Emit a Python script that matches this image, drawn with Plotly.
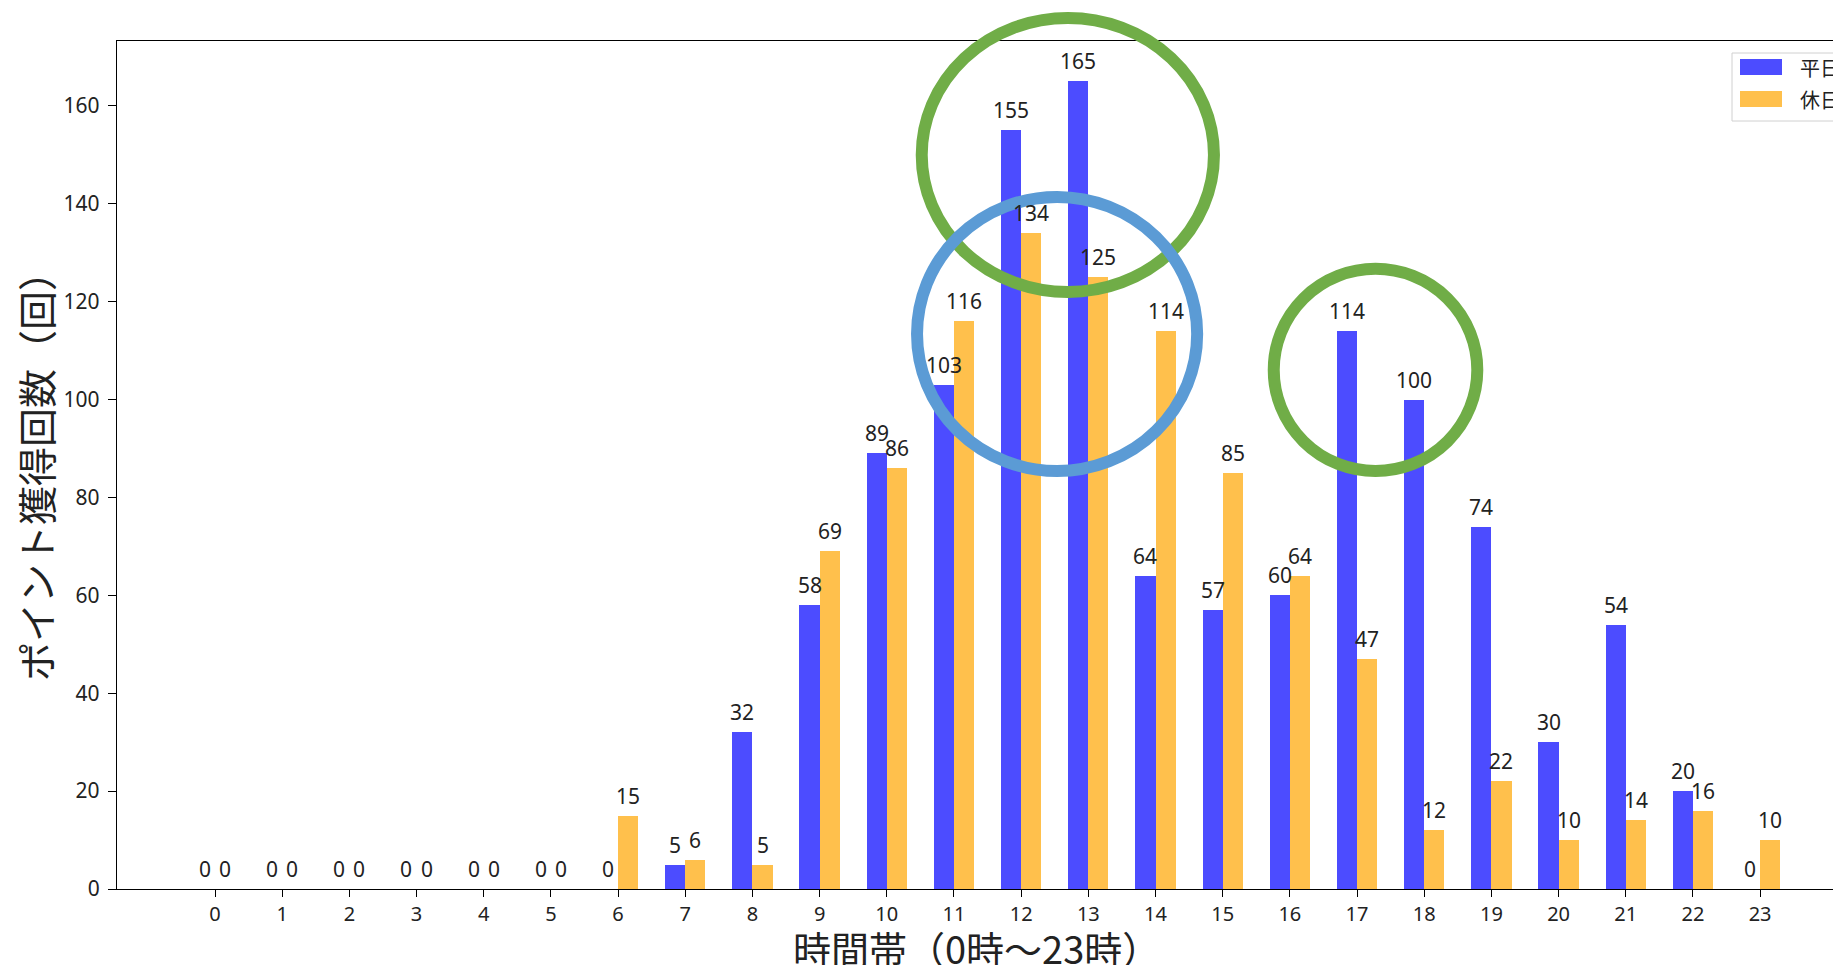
import plotly.graph_objects as go

# ---------------- data ----------------
hours = list(range(24))
weekday = [0, 0, 0, 0, 0, 0, 0, 5, 32, 58, 89, 103, 155, 165, 64, 57, 60, 114, 100, 74, 30, 54, 20, 0]
holiday = [0, 0, 0, 0, 0, 0, 15, 6, 5, 69, 86, 116, 134, 125, 114, 85, 64, 47, 12, 22, 10, 14, 16, 10]
series_names = ["平日", "休日"]
series_colors = ["rgba(0,0,255,0.7)", "rgba(255,165,0,0.7)"]
x_title = "時間帯（0時〜23時）"
y_title = "ポイント獲得回数（回）"
y_tick_vals = [0, 20, 40, 60, 80, 100, 120, 140, 160]

# highlight ellipses in data units: (x0, x1, y0, y1, color)
highlights = [
    (10.52, 14.87, 121.97, 177.95, "#70AD47"),
    (10.45, 14.62, 85.4, 141.4, "#5B9BD5"),
    (15.76, 18.79, 85.4, 126.7, "#70AD47"),
]

# ---------------- layout constants ----------------
OFF = 8                      # page body margin in the browser
SCR_W, SCR_H = 1841, 965
W, H = SCR_W - OFF, SCR_H - OFF
# plot area in screen pixels
P_LEFT, P_TOP, P_BOTTOM = 117, 41, 889
ML, MR, MT, MB = P_LEFT - OFF, 0, P_TOP - OFF, H - (P_BOTTOM - OFF)
X_RANGE = [-1.459, 24.204]
Y_RANGE = [0, 173.25]
BAR_W = 0.3
FONT_NUM = "Noto Sans, Noto Sans CJK JP, sans-serif"
FONT_JP = "Noto Sans CJK JP, Noto Sans, sans-serif"
TXT = "#222222"

plot_w = W - ML - MR
plot_h = H - MT - MB


def dx_to_paper(v):
    return (v - X_RANGE[0]) / (X_RANGE[1] - X_RANGE[0])


def dy_to_paper(v):
    return (v - Y_RANGE[0]) / (Y_RANGE[1] - Y_RANGE[0])


def px_to_paper_x(px):
    # px in screen coordinates
    return (px - OFF - ML) / plot_w


def px_to_paper_y(py):
    return (H - MB - (py - OFF)) / plot_h


fig = go.Figure()
all_series = [weekday, holiday]
offsets = [-BAR_W, 0.0]
for name, vals, col, off in zip(series_names, all_series, series_colors, offsets):
    fig.add_trace(go.Bar(
        x=hours, y=vals, name=name, width=BAR_W, offset=off,
        marker=dict(color=col, line=dict(width=0)),
        showlegend=False, hoverinfo="x+y+name",
    ))

annotations = []
for vals, off in zip(all_series, offsets):
    for h, v in zip(hours, vals):
        annotations.append(dict(
            x=h + off + BAR_W / 2, y=v, xref="x", yref="y",
            text=str(v), showarrow=False, yanchor="bottom", xanchor="center",
            yshift=4, font=dict(family=FONT_NUM, size=21, color=TXT),
        ))

# axis titles
annotations.append(dict(
    x=px_to_paper_x(976), y=px_to_paper_y(947), xref="paper", yref="paper",
    text=x_title, showarrow=False, xanchor="center", yanchor="middle",
    font=dict(family=FONT_JP, size=38, color=TXT),
))
annotations.append(dict(
    x=px_to_paper_x(35), y=px_to_paper_y(467), xref="paper", yref="paper",
    text=y_title, showarrow=False, xanchor="center", yanchor="middle", textangle=-90,
    font=dict(family=FONT_JP, size=39, color=TXT),
))

shapes = []
# highlight ellipses
for x0, x1, y0, y1, c in highlights:
    shapes.append(dict(
        type="circle", xref="paper", yref="paper",
        x0=dx_to_paper(x0), x1=dx_to_paper(x1), y0=dy_to_paper(y0), y1=dy_to_paper(y1),
        line=dict(color=c, width=12), fillcolor="rgba(0,0,0,0)", layer="above",
    ))

# legend (partly cut off at the right edge, as in the reference)
shapes.append(dict(
    type="rect", xref="paper", yref="paper",
    x0=px_to_paper_x(1732), x1=px_to_paper_x(1870), y0=px_to_paper_y(121), y1=px_to_paper_y(53),
    line=dict(color="#d0d0d0", width=1), fillcolor="rgba(255,255,255,0.85)", layer="above",
))
legend_rows = [(59, 75), (91, 107)]
for (t, b), name, col in zip(legend_rows, series_names, series_colors):
    shapes.append(dict(
        type="rect", xref="paper", yref="paper",
        x0=px_to_paper_x(1740), x1=px_to_paper_x(1782), y0=px_to_paper_y(b), y1=px_to_paper_y(t),
        line=dict(width=0), fillcolor=col, layer="above",
    ))
    annotations.append(dict(
        x=px_to_paper_x(1798), y=px_to_paper_y((t + b) / 2), xref="paper", yref="paper",
        text=name, showarrow=False, xanchor="left", yanchor="middle",
        font=dict(family=FONT_JP, size=20, color=TXT),
    ))

fig.update_layout(
    width=W, height=H,
    margin=dict(l=ML, r=MR, t=MT, b=MB, pad=0),
    paper_bgcolor="white", plot_bgcolor="white",
    barmode="overlay", bargap=0,
    annotations=annotations, shapes=shapes,
    showlegend=False,
)
fig.update_xaxes(
    range=X_RANGE, tickmode="array", tickvals=hours, ticktext=[str(h) for h in hours],
    showgrid=False, zeroline=False, showline=True, mirror=True,
    linecolor="black", linewidth=1.3, ticks="outside", ticklen=7, tickwidth=1.2,
    tickcolor="black", tickfont=dict(family=FONT_NUM, size=20, color=TXT),
)
fig.update_yaxes(
    range=Y_RANGE, tickmode="array", tickvals=y_tick_vals,
    showgrid=False, zeroline=False, showline=True, mirror=False,
    linecolor="black", linewidth=1.3, ticks="outside", ticklen=8, tickwidth=1.2,
    tickcolor="black", tickfont=dict(family=FONT_NUM, size=21, color=TXT),
    ticklabelstandoff=4,
)

fig.write_html("out.html")
